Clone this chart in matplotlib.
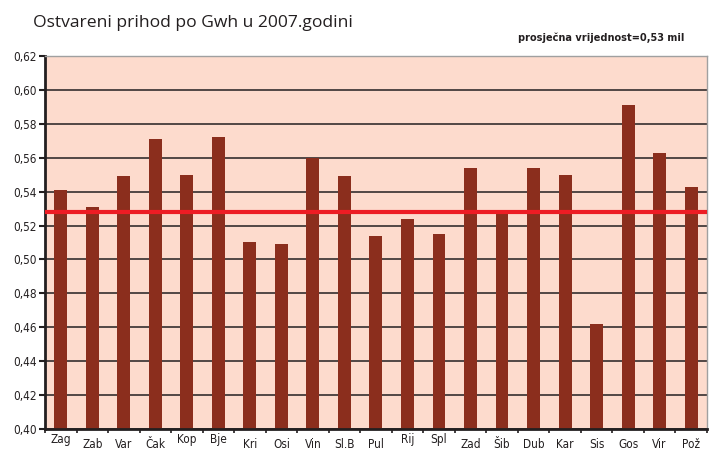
import matplotlib.pyplot as plt
import numpy as np
from matplotlib.ticker import FuncFormatter

# podaci
gradovi = ['Zag', 'Zab', 'Var', 'Čak', 'Kop', 'Bje', 'Kri', 'Osi', 'Vin', 'Sl.B', 'Pul',
           'Rij', 'Spl', 'Zad', 'Šib', 'Dub', 'Kar', 'Sis', 'Gos', 'Vir', 'Pož']
prihod = [0.541, 0.531, 0.549, 0.571, 0.550, 0.572, 0.510, 0.509, 0.560, 0.549, 0.514,
          0.524, 0.515, 0.554, 0.527, 0.554, 0.550, 0.462, 0.591, 0.563, 0.543]
prosjek = 0.528
y_ticks = [0.40, 0.42, 0.44, 0.46, 0.48, 0.50, 0.52, 0.54, 0.56, 0.58, 0.60, 0.62]

narrow = ['Liberation Sans Narrow', 'DejaVu Sans']

fig = plt.figure(figsize=(7.09, 4.54), dpi=100)
ax = fig.add_axes([0.0635, 0.0551, 0.9335, 0.8216])
ax.set_facecolor('#fddbcd')

x = np.arange(len(gradovi))
ax.set_axisbelow(True)
ax.yaxis.grid(True, color='#231f20', linewidth=1.1)
ax.bar(x, prihod, width=0.41, color='#8b2e1d', zorder=2)
ax.axhline(prosjek, color='#ed1c24', linewidth=3, zorder=3)

ax.set_xlim(-0.5, len(gradovi) - 0.5)
ax.set_ylim(0.40, 0.62)
ax.set_yticks(y_ticks)
ax.yaxis.set_major_formatter(FuncFormatter(lambda v, p: f'{v:.2f}'.replace('.', ',')))

ax.set_xticks(x)
ax.set_xticklabels(gradovi)
ax.set_xticks(np.arange(-0.5, len(gradovi), 1.0), minor=True)
ax.tick_params(axis='x', which='major', length=0, labelsize=8.5)
ax.tick_params(axis='x', which='minor', length=3, width=1.2, direction='out', color='#231f20')
ax.tick_params(axis='y', length=4, width=1.5, direction='out', color='#231f20', labelsize=8.5, pad=2)

for lbl in ax.get_xticklabels() + ax.get_yticklabels():
    lbl.set_family(narrow)
    lbl.set_stretch('condensed')
    lbl.set_color('#231f20')

# oznake s "repom" stoje malo više
for tick, g in zip(ax.xaxis.get_major_ticks(), gradovi):
    if any(c in g for c in 'gjp'):
        tick.set_pad(3)
    else:
        tick.set_pad(6.5)

for s in ['left', 'bottom']:
    ax.spines[s].set_color('#231f20')
    ax.spines[s].set_linewidth(2)
for s in ['top', 'right']:
    ax.spines[s].set_color('#a0a0a0')
    ax.spines[s].set_linewidth(1)

fig.text(0.047, 0.94, 'Ostvareni prihod po Gwh u 2007.godini', fontsize=12.6,
         family=['Open Sans', 'DejaVu Sans'], color='#231f20', va='baseline')
fig.text(0.965, 0.916, 'prosječna vrijednost=0,53 mil', fontsize=7.8, fontweight='bold',
         family=narrow, stretch='condensed', color='#231f20', ha='right', va='center')

fig.savefig('out.png', dpi=100)
